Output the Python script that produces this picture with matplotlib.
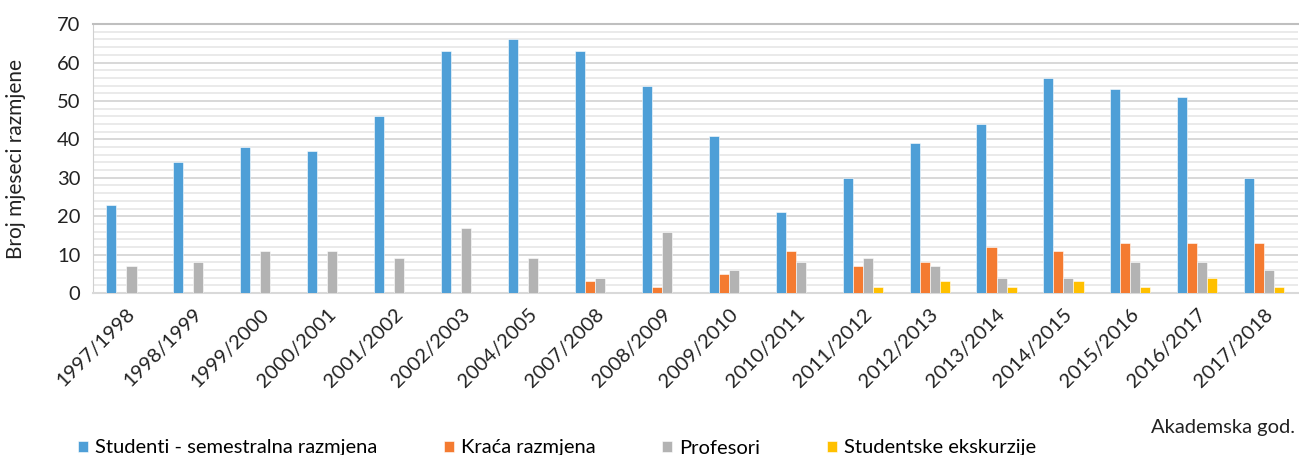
import matplotlib.pyplot as plt
import numpy as np
from matplotlib.ticker import MultipleLocator

plt.rcParams['font.family'] = ['Lato', 'DejaVu Sans']

years = ['1997/1998', '1998/1999', '1999/2000', '2000/2001', '2001/2002', '2002/2003',
         '2004/2005', '2007/2008', '2008/2009', '2009/2010', '2010/2011', '2011/2012',
         '2012/2013', '2013/2014', '2014/2015', '2015/2016', '2016/2017', '2017/2018']

studenti = [23, 34, 38, 37, 46, 63, 66, 63, 54, 41, 21, 30, 39, 44, 56, 53, 51, 30]
kraca = [0, 0, 0, 0, 0, 0, 0, 3, 1.5, 5, 11, 7, 8, 12, 11, 13, 13, 13]
profesori = [7, 8, 11, 11, 9, 17, 9, 4, 16, 6, 8, 9, 7, 4, 4, 8, 8, 6]
ekskurzije = [0, 0, 0, 0, 0, 0, 0, 0, 0, 0, 0, 1.5, 3, 1.5, 3, 1.5, 4, 1.5]

series = [studenti, kraca, profesori, ekskurzije]
names = ['Studenti - semestralna razmjena', 'Kraća razmjena', 'Profesori', 'Studentske ekskurzije']
colors = ['#4e9fd7', '#f47b31', '#b3b3b3', '#ffc000']

fs = 14.5
fig = plt.figure(figsize=(12.99, 4.55), dpi=100)
ax = fig.add_axes([0.0716, 0.356, 0.9274, 0.591])

x = np.arange(len(years))
w = 0.15
bars = []
for i, (vals, name, col) in enumerate(zip(series, names, colors)):
    b = ax.bar(x + (i - 1.5) * w, vals, w, color=col, label=name,
               edgecolor='white', linewidth=0.4, zorder=3)
    bars.append(b)

ax.set_xlim(-0.5, len(years) - 0.5)
ax.set_ylim(0, 70)
ax.yaxis.set_major_locator(MultipleLocator(10))
ax.yaxis.set_minor_locator(MultipleLocator(2))
ax.grid(axis='y', which='minor', color='#e6e6e6', linewidth=1.2, zorder=0)
ax.grid(axis='y', which='major', color='#d6d6d6', linewidth=1.3, zorder=0)
ax.set_axisbelow(True)

ax.spines['left'].set_color('#d0d0d0')
ax.spines['right'].set_visible(False)
ax.spines['top'].set_color('#bfbfbf')
ax.spines['top'].set_linewidth(1.5)
ax.spines['bottom'].set_color('#d9d9d9')
ax.spines['bottom'].set_linewidth(1.5)

ax.set_xticks(x)
ax.set_xticklabels(years, rotation=45, ha='right', rotation_mode='anchor', fontsize=fs)
ax.tick_params(axis='both', which='both', length=0, colors='#222222')
ax.tick_params(axis='y', labelsize=fs, pad=9)
ax.tick_params(axis='x', pad=9)
ax.set_ylabel('Broj mjeseci razmjene', fontsize=fs + 0.5, color='#222222', labelpad=22)

fig.text(0.997, 28 / 455, 'Akademska god.', ha='right', va='center', fontsize=fs, color='#222222')

fig.legend(handles=bars, loc='center left', bbox_to_anchor=(78 / 1299, 7 / 455),
           ncol=4, frameon=False, fontsize=fs, borderaxespad=0, borderpad=0,
           handlelength=0.5, handleheight=0.5, handletextpad=0.35, columnspacing=3.3)

fig.savefig('out.png', dpi=100)
